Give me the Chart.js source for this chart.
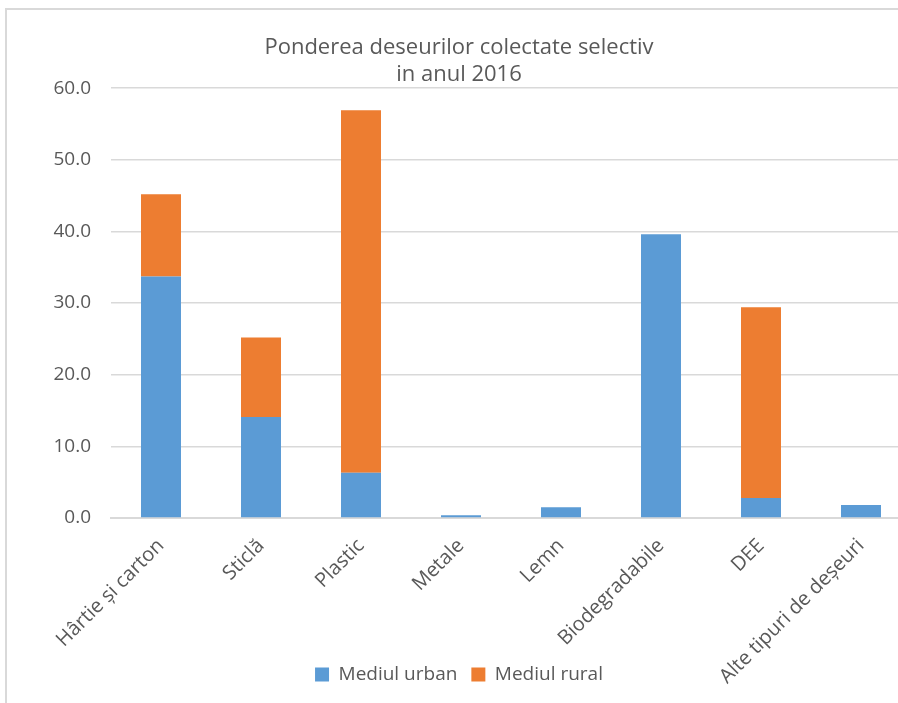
<!DOCTYPE html>
<html>
<head>
<meta charset="utf-8">
<script src="https://cdn.jsdelivr.net/npm/chart.js@4"></script>
<style>
  html, body { margin: 0; padding: 0; background: #fff; overflow: hidden; width: 898px; height: 703px; }
  #frame {
    position: absolute; left: 5px; top: 8px;
    width: 904px; height: 693px;
    border-top: 2px solid #d9d9d9; border-left: 2px solid #d9d9d9;
  }
</style>
</head>
<body>
<div id="frame"><canvas id="chart" width="904" height="693"></canvas></div>
<script>
const categories = ["Hârtie și carton", "Sticlă", "Plastic", "Metale", "Lemn", "Biodegradabile", "DEE", "Alte tipuri de deșeuri"];
const urban = [33.7, 14.1, 6.3, 0.4, 1.5, 39.6, 2.8, 1.8];
const rural = [11.5, 11.1, 50.6, 0, 0, 0, 26.6, 0];
const seriesNames = ["Mediul urban", "Mediul rural"];
const titleLines = ["Ponderea deseurilor colectate selectiv", "in anul 2016"];

const textColor = "#595959";
const fontFamily = "'Open Sans', 'Noto Sans', sans-serif";

// the long rotated labels run down beside the legend, so let the x scale's
// label clip box reach the bottom of the canvas
const unclipLabels = {
    id: "unclipLabels",
    afterLayout(chart) {
        chart.scales.x.bottom = chart.height;
    },
};

new Chart(document.getElementById("chart"), {
    type: "bar",
    data: {
        labels: categories,
        datasets: [
            { label: seriesNames[0], data: urban, backgroundColor: "#5b9bd5" },
            { label: seriesNames[1], data: rural, backgroundColor: "#ed7d31" },
        ],
    },
    plugins: [unclipLabels],
    options: {
        responsive: false,
        animation: false,
        layout: { padding: { left: 0, right: 0, top: 0, bottom: 9 } },
        datasets: { bar: { categoryPercentage: 1.0, barPercentage: 0.4 } },
        plugins: {
            title: {
                display: true,
                text: titleLines,
                color: textColor,
                font: { family: fontFamily, size: 22, weight: "normal", lineHeight: 1.23 },
                padding: { top: 24, bottom: 0 },
            },
            legend: {
                position: "bottom",
                labels: {
                    color: textColor,
                    font: { family: fontFamily, size: 19 },
                    boxWidth: 14,
                    boxHeight: 14,
                    padding: 14,
                },
            },
            tooltip: { enabled: false },
        },
        scales: {
            x: {
                stacked: true,
                grid: { display: false },
                border: { color: "#d9d9d9", width: 2 },
                ticks: {
                    color: textColor,
                    font: { family: fontFamily, size: 20 },
                    minRotation: 45,
                    maxRotation: 45,
                    padding: 8,
                },
                afterFit(scale) { scale.height = 133; },
            },
            y: {
                stacked: true,
                min: 0,
                max: 60,
                border: { display: false },
                grid: { color: "#d9d9d9", lineWidth: 1.5, drawTicks: false },
                ticks: {
                    stepSize: 10,
                    color: textColor,
                    font: { family: fontFamily, size: 19 },
                    padding: 20,
                    callback: v => v.toFixed(1),
                },
                afterFit(scale) { scale.width = 104; },
            },
        },
    },
});
</script>
</body>
</html>
